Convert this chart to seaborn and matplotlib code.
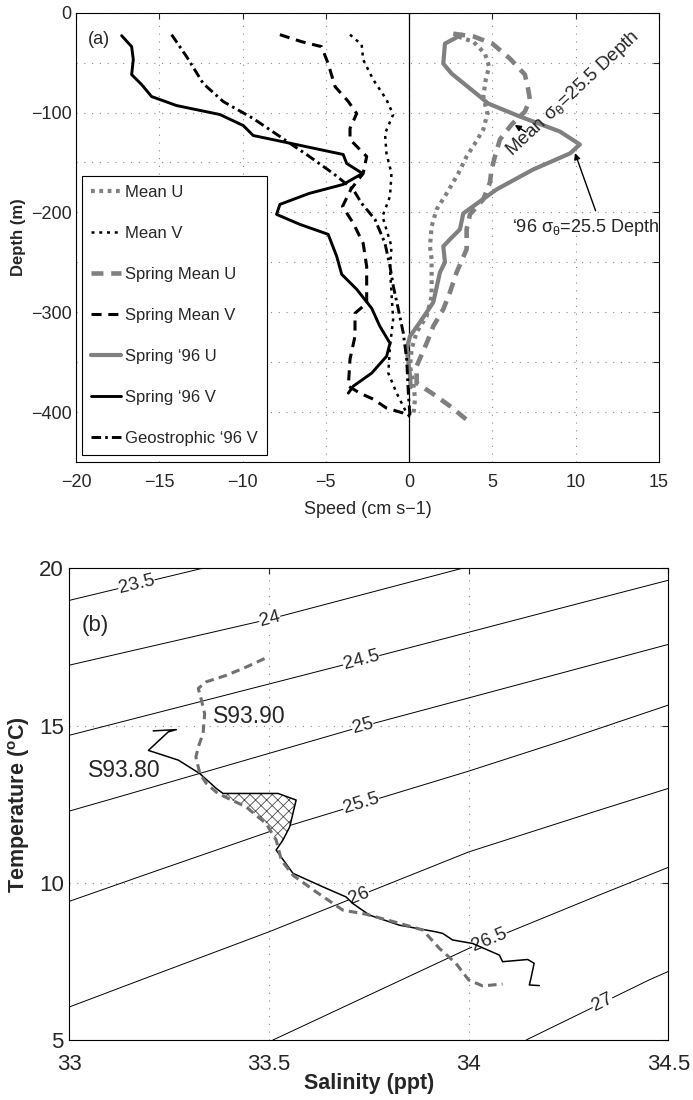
import numpy as np
import pandas as pd
import seaborn as sns
import matplotlib.pyplot as plt
from matplotlib import font_manager

# ---------------- (a) velocity profiles: speed (cm/s) vs depth (m) ----------------
mean_u_d = [-24, -29, -41, -54, -67, -84, -101, -117, -131, -144, -161, -181, -197, -214,
            -234, -247, -267, -284, -304, -320, -337, -354, -370, -387, -404]
mean_u = [2.95, 3.85, 4.55, 4.8, 4.6, 4.45, 4.7, 4.45, 3.95, 3.45, 2.95, 2.25, 1.65, 1.35,
          1.25, 1.35, 1.35, 1.35, 1.05, 0.45, 0.15, 0.05, 0.25, 0.35, 0.25]

mean_v_d = [-22, -32, -47, -67, -87, -102, -121, -141, -161, -184, -204, -234, -257, -281,
            -307, -334, -361, -381, -401, -407]
mean_v = [-3.55, -2.85, -2.76, -2.16, -1.36, -0.96, -1.45, -1.36, -1.06, -1.15, -1.6, -1.06,
          -1.15, -1.06, -0.96, -1.15, -1.25, -0.75, -0.15, 0.15]

spr_mean_u_d = [-21, -24, -31, -46, -62, -77, -87, -99, -112, -127, -144, -157, -170, -187,
                -202, -217, -237, -260, -280, -297, -314, -331, -354, -371, -382, -394, -409]
spr_mean_u = [2.65, 3.9, 5.0, 6.05, 6.95, 7.15, 7.25, 6.95, 6.15, 5.45, 5.15, 4.95, 4.85, 4.45,
              3.65, 3.45, 3.45, 2.85, 2.45, 2.05, 1.45, 1.05, 0.45, 0.45, 1.45, 2.45, 3.55]

spr_mean_v_d = [-22, -29, -34, -51, -74, -89, -101, -116, -127, -144, -161, -177, -194, -211,
                -231, -254, -274, -291, -301, -324, -347, -374, -381, -387, -396, -401, -404]
spr_mean_v = [-7.76, -6.46, -5.26, -4.86, -4.45, -3.65, -3.15, -3.55, -3.55, -2.55, -2.76, -3.5,
              -4.0, -3.35, -2.76, -2.55, -2.55, -2.55, -3.25, -3.25, -3.55, -3.65, -2.96, -2.16,
              -1.36, -0.35, 0.05]

spr96_u_d = [-22, -31, -51, -61, -84, -91, -104, -119, -132, -141, -157, -177, -201, -217,
             -227, -234, -250, -260, -290, -310, -324, -337, -350, -364, -375]
spr96_u = [3.15, 2.15, 2.05, 2.55, 4.25, 4.75, 6.65, 9.05, 10.25, 9.65, 7.45, 5.25, 3.25, 3.05,
           2.45, 2.05, 2.15, 1.85, 1.45, 0.65, 0.05, -0.15, -0.05, 0.05, 0.1]

spr96_v_d = [-23, -34, -47, -62, -72, -84, -93, -102, -113, -123, -130, -142, -151, -161, -172,
             -181, -192, -202, -212, -222, -244, -262, -277, -296, -314, -331, -344, -361, -374, -381]
spr96_v = [-17.26, -16.66, -16.56, -16.66, -16.06, -15.46, -13.96, -11.36, -9.96, -9.36, -7.36,
           -3.96, -3.75, -2.8, -3.96, -6.0, -7.76, -7.96, -6.56, -4.86, -4.35, -4.05, -3.15,
           -2.25, -1.76, -1.15, -1.35, -2.25, -3.35, -3.65]

geo96_v_d = [-22, -44, -71, -89, -106, -124, -142, -161, -177, -191, -207, -231, -254, -274,
             -297, -321, -347, -381, -404]
geo96_v = [-14.26, -13.36, -12.36, -11.16, -9.36, -7.76, -6.16, -4.56, -3.36, -2.85, -2.05,
           -1.45, -1.15, -0.95, -0.65, -0.35, -0.15, -0.05, 0.05]

# ---------------- (b) T-S diagram ----------------
s9390_S = [33.489, 33.443, 33.394, 33.343, 33.323, 33.331, 33.339, 33.335, 33.323, 33.317,
           33.327, 33.343, 33.372, 33.443, 33.493, 33.518, 33.531, 33.56, 33.618, 33.685,
           33.743, 33.827, 33.885, 33.927, 33.968, 34.0, 34.035, 34.085]
s9390_T = [17.13, 16.86, 16.6, 16.39, 16.18, 15.8, 15.38, 14.75, 14.32, 14.0, 13.47, 13.16,
           12.84, 12.41, 11.88, 11.36, 10.72, 10.24, 9.71, 9.13, 9.0, 8.71, 8.5, 7.91, 7.44,
           6.91, 6.72, 6.78]

s9380_S = [33.21, 33.268, 33.248, 33.198, 33.273, 33.327, 33.368, 33.385, 33.523, 33.568,
           33.552, 33.535, 33.518, 33.56, 33.635, 33.693, 33.71, 33.752, 33.827, 33.918,
           33.935, 33.96, 34.01, 34.077, 34.085, 34.148, 34.164, 34.156, 34.152, 34.177]
s9380_T = [14.83, 14.87, 14.8, 14.21, 13.9, 13.47, 13.0, 12.84, 12.84, 12.63, 11.78, 11.36,
           11.04, 10.3, 9.87, 9.55, 9.34, 8.97, 8.65, 8.44, 8.39, 8.18, 8.07, 7.7, 7.49, 7.56,
           7.44, 6.96, 6.75, 6.73]

# isopycnals (sigma-theta)
iso_levels = ['23.5', '24', '24.5', '25', '25.5', '26', '26.5', '27']
iso_S = [[33.0, 33.34],
         [33.0, 33.5, 33.99],
         [33.0, 33.73, 34.227, 34.5],
         [33.0, 33.11, 33.73, 34.227, 34.5],
         [33.0, 33.2, 33.5, 34.0, 34.227, 34.5],
         [33.0, 33.2, 33.5, 34.0, 34.327, 34.5],
         [33.51, 34.0, 34.327, 34.5],
         [34.144, 34.452, 34.5]]
iso_T = [[18.98, 20.02],
         [16.92, 18.38, 20.02],
         [14.69, 17.07, 18.72, 19.62],
         [12.28, 12.68, 14.96, 16.65, 17.58],
         [9.41, 10.30, 11.62, 13.55, 14.48, 15.65],
         [6.05, 7.01, 8.44, 10.98, 12.31, 13.0],
         [5.0, 7.91, 9.61, 10.49],
         [5.0, 6.91, 7.18]]
label_S = [33.168, 33.502, 33.731, 33.735, 33.731, 33.725, 34.052, 34.335]

# ---------------- style ----------------
sns.set_style('white')
names = {f.name for f in font_manager.fontManager.ttflist}
narrow = 'Liberation Sans Narrow' if 'Liberation Sans Narrow' in names else 'Liberation Sans'
plt.rcParams.update({
    'font.family': ['Liberation Sans', 'DejaVu Sans'],
    'mathtext.fontset': 'custom',
    'mathtext.default': 'regular',
    'mathtext.rm': narrow,
    'mathtext.bf': 'Liberation Sans:bold',
    'axes.edgecolor': 'black',
    'axes.linewidth': 0.8,
    'hatch.linewidth': 0.6,
})

GRAY = '#808080'
grid_kw = dict(color='0.55', linestyle=(0, (1, 6)), linewidth=0.8)
top_fs = 13 if narrow == 'Liberation Sans' else 15

fig = plt.figure(figsize=(6.93, 11), dpi=100)
ax1 = fig.add_axes([76 / 693, 1 - 462 / 1100, 583 / 693, 449.3 / 1100])
ax2 = fig.add_axes([69.3 / 693, 1 - 1040 / 1100, 599 / 693, 471.7 / 1100])

# ---------------- panel (a) ----------------
series = [
    ('Mean U', mean_u, mean_u_d, GRAY, 3.0, (0, (0.9, 1.1))),
    ('Mean V', mean_v, mean_v_d, 'black', 1.8, (0, (1.2, 1.9))),
    ('Spring Mean U', spr_mean_u, spr_mean_u_d, GRAY, 3.3, (0, (2.6, 1.7))),
    ('Spring Mean V', spr_mean_v, spr_mean_v_d, 'black', 2.2, (0, (3.3, 2.2))),
    ('Spring \u201896 U', spr96_u, spr96_u_d, GRAY, 3.0, '-'),
    ('Spring \u201896 V', spr96_v, spr96_v_d, 'black', 2.1, '-'),
    ('Geostrophic \u201896 V', geo96_v, geo96_v_d, 'black', 2.1, (0, (3.3, 1.4, 0.9, 1.4))),
]
for name, u, d, col, lw, ls in series:
    df = pd.DataFrame({'speed': u, 'depth': d})
    sns.lineplot(data=df, x='speed', y='depth', sort=False, estimator=None, ax=ax1,
                 color=col, linewidth=lw, linestyle=ls, label=name, zorder=3)

ax1.axvline(0, color='black', linewidth=0.9, zorder=2)
ax1.set_xlim(-20, 15)
ax1.set_ylim(-450, 0)
xt = np.arange(-20, 16, 5)
ax1.set_xticks(xt)
ax1.set_xticklabels([f'{int(v)}'.replace('-', '\u2212') for v in xt])
yt = np.arange(-400, 1, 50)
ax1.set_yticks(yt)
ax1.set_yticklabels([f'{int(v)}'.replace('-', '\u2212') if v % 100 == 0 else '' for v in yt])
ax1.grid(True, **grid_kw)
ax1.tick_params(direction='in', length=4, width=0.8, top=True, right=True, labelsize=top_fs)
ax1.tick_params(axis='x', pad=9)
ax1.tick_params(axis='y', pad=3)
for lbl in ax1.get_xticklabels() + ax1.get_yticklabels():
    lbl.set_fontfamily(narrow)

ax1.set_xlabel('Speed (cm s\u22121)', fontsize=13)
ax1.xaxis.set_label_coords(0.5, -0.087)
ax1.set_ylabel('Depth (m)', fontsize=12, fontweight='bold')
ax1.yaxis.set_label_coords(-0.085, 0.5)

ax1.text(-19.3, -27, '(a)', fontsize=top_fs, family=narrow, va='center', ha='left')

ax1.annotate('', xy=(6.2, -111), xytext=(7.15, -121),
             arrowprops=dict(arrowstyle='-|>', color='black', lw=1.0, mutation_scale=9))
ax1.text(6.15, -144, r'Mean $\sigma_\theta$=25.5 Depth', fontsize=top_fs + 0.5, family=narrow,
         rotation=43, rotation_mode='anchor', ha='left', va='baseline')
ax1.annotate('', xy=(9.9, -138), xytext=(11.25, -201),
             arrowprops=dict(arrowstyle='-|>', color='black', lw=1.0, mutation_scale=9))
ax1.text(6.15, -220, '\u201896 $\\sigma_\\theta$=25.5 Depth',
         fontsize=top_fs, family=narrow, ha='left', va='baseline')

leg = ax1.legend(loc='upper left', bbox_to_anchor=(0.0103, 0.6365), borderaxespad=0,
                 frameon=True, fancybox=False, framealpha=1, edgecolor='black',
                 prop={'family': narrow, 'size': top_fs - 1}, handlelength=1.8,
                 handletextpad=0.25, labelspacing=1.56, borderpad=0.55)
leg.get_frame().set_linewidth(0.8)

# ---------------- panel (b) ----------------
for S, T in zip(iso_S, iso_T):
    sns.lineplot(x=S, y=T, sort=False, estimator=None, ax=ax2, color='black',
                 linewidth=0.7, zorder=2)
for S, T, lev, ls_ in zip(iso_S, iso_T, iso_levels, label_S):
    lt = np.interp(ls_, S, T)
    i = min(max(np.searchsorted(S, ls_) - 1, 0), len(S) - 2)
    ang = np.degrees(np.arctan2(T[i + 1] - T[i], S[i + 1] - S[i]))
    ax2.text(ls_, lt, lev, fontsize=13.5, ha='center', va='center', rotation=ang,
             transform_rotates_text=True, rotation_mode='anchor', zorder=2.5,
             bbox=dict(fc='white', ec='none', pad=0.3))

hatch_S = s9380_S[7:12] + s9390_S[12:16][::-1]
hatch_T = s9380_T[7:12] + s9390_T[12:16][::-1]
ax2.fill(hatch_S, hatch_T, facecolor='white', edgecolor='0.3', hatch='xxx', linewidth=0,
         zorder=2.8)

sns.lineplot(x=s9380_S, y=s9380_T, sort=False, estimator=None, ax=ax2, color='black',
             linewidth=1.1, zorder=3)
sns.lineplot(x=s9390_S, y=s9390_T, sort=False, estimator=None, ax=ax2, color='#707070',
             linewidth=2.2, linestyle=(0, (2.8, 1.7)), zorder=3.1)

ax2.text(33.36, 15.3, 'S93.90', fontsize=16.5, ha='left', va='center')
ax2.text(33.047, 13.58, 'S93.80', fontsize=16.5, ha='left', va='center')
ax2.text(33.032, 18.19, '(b)', fontsize=16, ha='left', va='center')

ax2.set_xlim(33, 34.5)
ax2.set_ylim(5, 20)
ax2.set_xticks([33, 33.5, 34, 34.5])
ax2.set_xticklabels(['33', '33.5', '34', '34.5'])
ax2.set_yticks([5, 10, 15, 20])
ax2.grid(True, **grid_kw)
ax2.tick_params(direction='in', length=4, width=0.8, top=True, right=True, labelsize=16)
ax2.tick_params(axis='x', pad=10)
ax2.tick_params(axis='y', pad=4)
ax2.set_xlabel('Salinity (ppt)', fontsize=15.5, fontweight='bold')
ax2.xaxis.set_label_coords(0.5, -0.07)
ax2.set_ylabel(r'Temperature ($^{\mathbf{o}}$C)', fontsize=15.5, fontweight='bold')
ax2.yaxis.set_label_coords(-0.062, 0.5)

fig.savefig('out.png', dpi=100)
